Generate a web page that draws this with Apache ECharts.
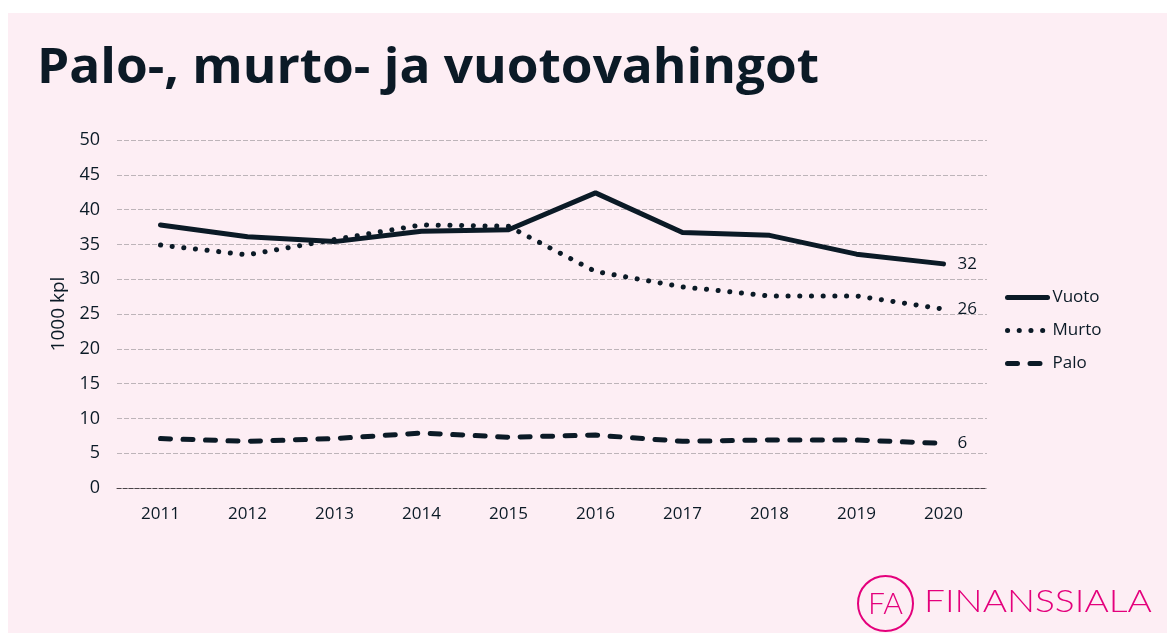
<!DOCTYPE html>
<html>
<head>
<meta charset="utf-8">
<script src="https://cdn.jsdelivr.net/npm/echarts@6/dist/echarts.min.js"></script>
<style>
  html, body { margin: 0; padding: 0; background: #fff; }
  #chart { width: 1167px; height: 634px; }
</style>
</head>
<body>
<div id="chart"></div>
<script>
// vuodet ja sarjat (1000 kpl)
const years = ['2011', '2012', '2013', '2014', '2015', '2016', '2017', '2018', '2019', '2020']
const vuoto = [37.8, 36.1, 35.4, 36.9, 37.1, 42.4, 36.7, 36.3, 33.6, 32.2]
const murto = [34.9, 33.5, 35.7, 37.8, 37.6, 31.1, 28.9, 27.6, 27.6, 25.7]
const palo = [7.1, 6.7, 7.1, 7.9, 7.3, 7.6, 6.7, 6.9, 6.9, 6.4]
const yTicks = [0, 50, 5] // min, max, interval

const ink = '#0b1a26'
const pink = '#e4007c'
const labelFont = 'Open Sans'

const chart = echarts.init(document.getElementById('chart'))

// yhteinen sarja-asetus, vain viivan tyyli vaihtuu
const makeSeries = (name, data, lineStyle) => ({
  name: name,
  type: 'line',
  data: data,
  symbol: 'none',
  lineStyle: Object.assign({ color: ink, width: 5, cap: 'round', join: 'round' }, lineStyle),
  itemStyle: { color: ink },
  endLabel: {
    show: true,
    distance: 14,
    color: ink,
    fontFamily: labelFont,
    fontSize: 17,
    formatter: (p) => Math.round(p.value)
  },
  emphasis: { disabled: true }
})

chart.setOption({
  backgroundColor: '#fff',
  animation: false,
  graphic: [
    // vaaleanpunainen tausta
    { type: 'rect', left: 8, top: 13, shape: { width: 1159, height: 620 }, style: { fill: '#fdeef4' }, z: -10 },
    // otsikko hieman levennettynä, alkuperäinen fontti on leveämpi
    {
      type: 'text', x: 37, y: 45, scaleX: 1.07,
      style: { text: 'Palo-, murto- ja vuotovahingot', font: 'bold 48px "Open Sans"', fill: ink }
    },
    // logo
    { type: 'circle', shape: { cx: 885.5, cy: 603.5, r: 27.5 }, style: { fill: 'none', stroke: pink, lineWidth: 2 } },
    {
      type: 'text', x: 885.5, y: 604,
      style: { text: 'FA', font: '300 30px Lato', fill: pink, align: 'center', verticalAlign: 'middle' }
    },
    {
      type: 'text', x: 924, y: 586, scaleX: 1.16,
      style: { text: 'FINANSSIALA', font: '300 32px Lato', fill: pink }
    }
  ],
  legend: {
    orient: 'vertical',
    left: 1000,
    top: 284,
    itemWidth: 40,
    itemHeight: 14,
    itemGap: 16,
    itemStyle: { opacity: 0 },
    lineStyle: { width: 5, cap: 'round' },
    textStyle: { color: ink, fontFamily: 'Open Sans', fontSize: 17 },
    data: ['Vuoto', 'Murto', 'Palo']
  },
  grid: { left: 117, right: 180, top: 140, bottom: 146 },
  xAxis: {
    type: 'category',
    data: years,
    boundaryGap: true,
    axisTick: { show: false },
    axisLine: { show: true, lineStyle: { color: '#4a4448', width: 1, type: [4, 2] } },
    axisLabel: { color: ink, fontFamily: labelFont, fontSize: 17, margin: 18 }
  },
  yAxis: {
    type: 'value',
    min: yTicks[0],
    max: yTicks[1],
    interval: yTicks[2],
    name: '1000 kpl',
    nameLocation: 'middle',
    nameGap: 45,
    nameTextStyle: { color: ink, fontFamily: labelFont, fontSize: 19 },
    axisLine: { show: false },
    axisTick: { show: false },
    axisLabel: { color: ink, fontFamily: labelFont, fontSize: 18, margin: 17 },
    splitLine: { lineStyle: { color: '#bdb4b9', width: 1, type: [5, 2] } }
  },
  series: [
    makeSeries('Vuoto', vuoto, { type: 'solid' }),
    makeSeries('Murto', murto, { type: [0.1, 11.6] }),
    makeSeries('Palo', palo, { type: [10, 12.5] })
  ]
})
</script>
</body>
</html>
